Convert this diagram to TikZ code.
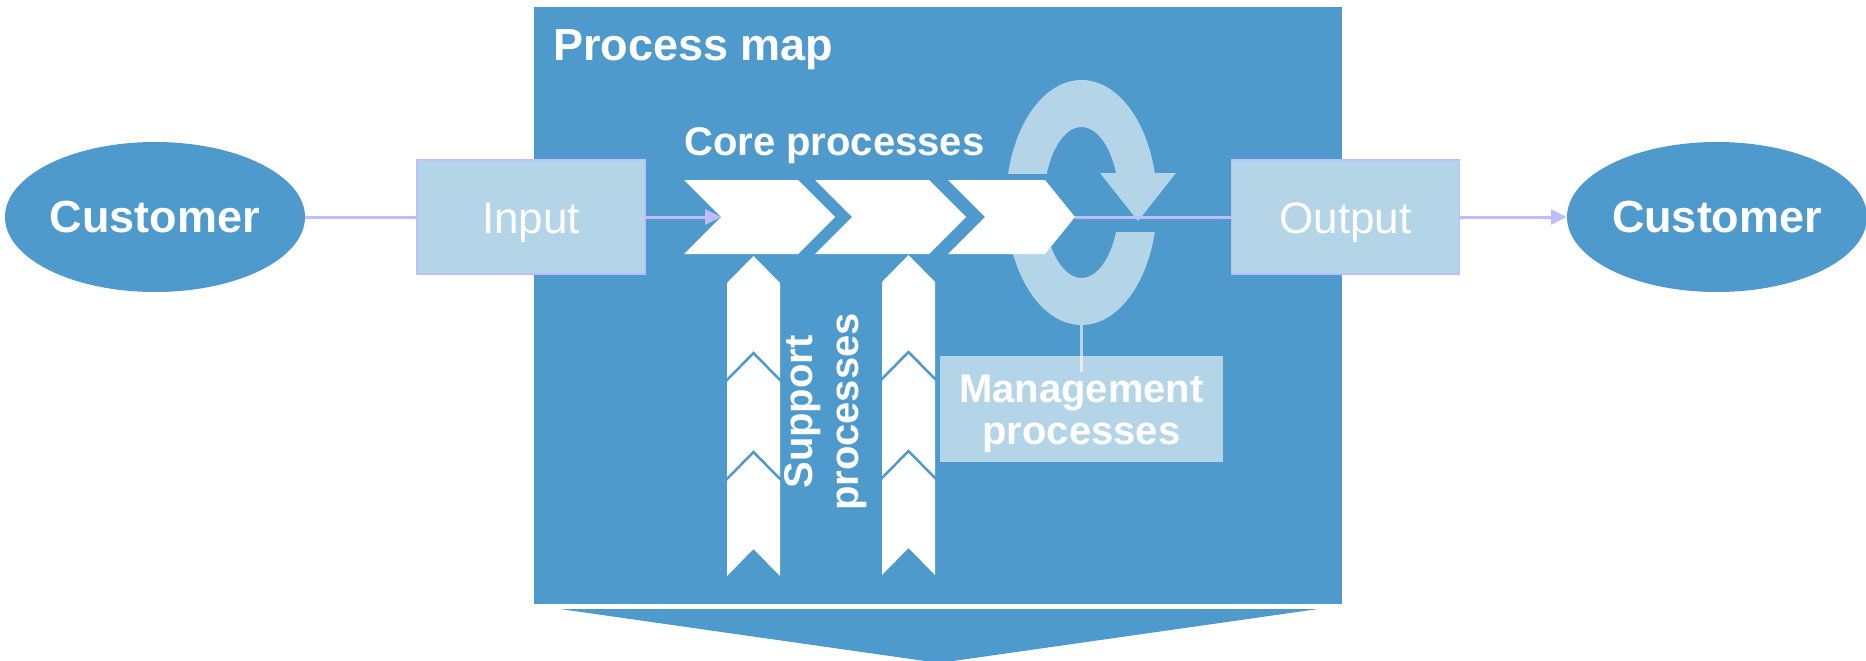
\documentclass[tikz,border=0pt]{standalone}
\usepackage{fontspec}
\setmainfont{Liberation Sans}
\usetikzlibrary{shapes.geometric,arrows.meta,calc}
\definecolor{dblue}{RGB}{78,154,204}
\definecolor{lblue}{RGB}{180,212,232}
\definecolor{flowc}{RGB}{190,190,255}
\tikzset{
  custnode/.style={ellipse, fill=dblue, inner sep=0pt, minimum width=300pt, minimum height=150pt,
    text=white, font=\bfseries\fontsize{45}{50}\selectfont},
  iobox/.style={rectangle, fill=lblue, draw=flowc, line width=1.5pt, minimum width=228pt,
    minimum height=114pt, inner sep=0pt, text=white, font=\fontsize{44}{50}\selectfont,
    text height=32pt, text depth=0pt},
  flow/.style={draw=flowc, line width=3pt},
  flowarrow/.style={flow, -{Triangle[length=16pt,width=15pt]}},
  boldlabel/.style={text=white, inner sep=0pt, font=\bfseries\fontsize{40}{42}\selectfont},
  titlelabel/.style={text=white, inner sep=0pt, font=\bfseries\fontsize{45}{50}\selectfont},
  chevfill/.style={fill=white},
  ringfill/.style={fill=lblue},
  mgmtbox/.style={rectangle, fill=lblue, inner sep=0pt, minimum width=283pt, minimum height=106pt},
  mgmtline/.style={draw=white, draw opacity=0.6, line width=2.5pt}
}
\begin{document}
\begin{tikzpicture}[x=1pt,y=-1pt]
\useasboundingbox (0,0) rectangle (1866,661);
% process map panel and bottom triangle
\fill[dblue] (534,7) rectangle (1342,604);
\fill[dblue] (560,609) -- (1318,609) -- (939,663) -- cycle;
\node[titlelabel, anchor=base west] (title) at (553,60) {Process map};
\node[boldlabel, anchor=base west] (corelabel) at (684,155) {Core processes};
% customers and input/output
\node[custnode] (custL) at (155,217) {Customer};
\node[custnode] (custR) at (1717,217) {Customer};
\node[iobox] (in) at (531,217) {Input};
\node[iobox] (out) at (1345.5,217) {Output};
% ring (management cycle)
\begin{scope}
  \clip (990,60) rectangle (1180,173);
  \fill[ringfill, even odd rule] (1081.5,202.5) ellipse [x radius=75.5pt, y radius=122.5pt]
    (1081.5,202.5) ellipse [x radius=37.5pt, y radius=75.5pt];
\end{scope}
\begin{scope}
  \clip (990,232) rectangle (1180,340);
  \fill[ringfill, even odd rule] (1081.5,202.5) ellipse [x radius=75.5pt, y radius=122.5pt]
    (1081.5,202.5) ellipse [x radius=37.5pt, y radius=75.5pt];
\end{scope}
\fill[ringfill] (1100,173) -- (1176,173) -- (1138,221) -- cycle;
\coordinate (ringbot) at (1081.5,325);
% core chevrons
\foreach \l/\r/\tipd in {684/798/37, 815/929/37, 948/1045/30} {
  \fill[chevfill] (\l,180) -- (\r,180) -- (\r+\tipd,217) -- (\r,254) -- (\l,254) -- (\l+37,217) -- cycle;
}
\coordinate (c1notch) at (721,217);
\coordinate (c3tip) at (1075,217);
% support chevrons
\foreach \cx/\t in {753.5/256, 753.5/355, 753.5/454, 908.5/255, 908.5/354, 908.5/453} {
  \fill[chevfill] (\cx,\t) -- ++(26.5,27) -- ++(0,95) -- ++(-26.5,-27) -- ++(-26.5,27) -- ++(0,-95) -- cycle;
}
\node[boldlabel, rotate=90, align=center, font=\bfseries\fontsize{40}{46}\selectfont] (sup) at (826,412) {Support\\processes};
% connectors
\draw[flow] (custL.east) -- (in.west);
\draw[flowarrow] (in.east) -- (c1notch);
\draw[flow] (c3tip) -- (out.west);
\draw[flowarrow] (out.east) -- (custR.west);
% management processes
\node[mgmtbox] (mgmt) at (1081.5,409) {};
\node[boldlabel, align=center] (mgmtlabel) at (1081.5,414) {Management\\processes};
\draw[mgmtline] (ringbot) -- ($(mgmt.north)+(0,16)$);
\end{tikzpicture}
\end{document}
